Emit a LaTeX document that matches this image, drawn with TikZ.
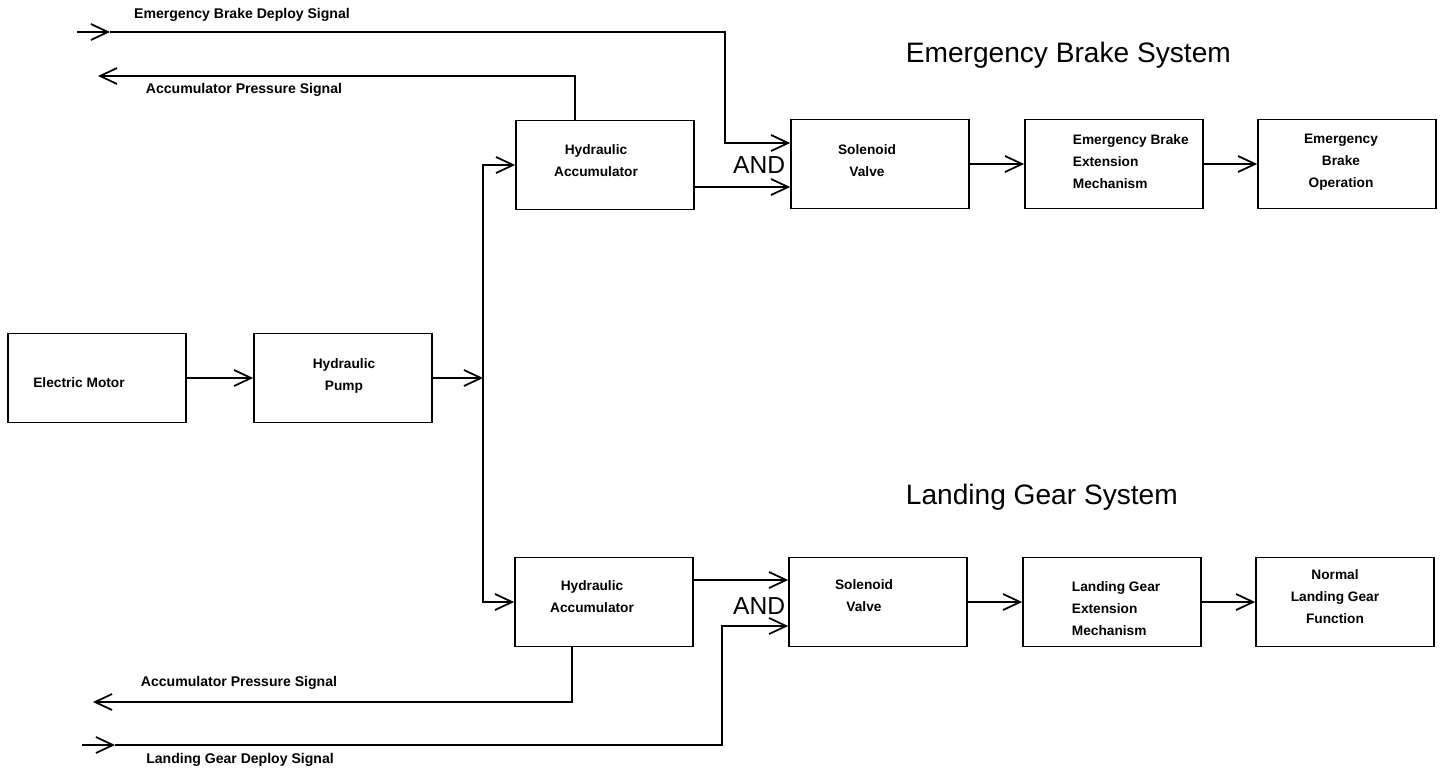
\documentclass[tikz,border=0pt]{standalone}
\usepackage{fontspec}
\setmainfont{Liberation Sans}
\usetikzlibrary{arrows.meta}
\tikzset{
  blk/.style={draw, line width=1pt, minimum width=3.56cm, minimum height=1.78cm, inner sep=0pt},
  txt/.style={inner sep=0pt, align=center, font=\fontsize{7.8}{12.5}\selectfont\bfseries},
  sig/.style={inner sep=0pt, font=\fontsize{8}{10}\selectfont\bfseries},
  systitle/.style={inner sep=0pt, anchor=west, font=\fontsize{16}{18}\selectfont},
  andlbl/.style={inner sep=0pt, anchor=east, font=\fontsize{14}{16}\selectfont},
  arr/.style={line width=1pt, -{Straight Barb[length=3.4mm,width=3.2mm]}}
}
\begin{document}
\begin{tikzpicture}[x=0.02cm, y=-0.02cm, line width=1pt]
  \useasboundingbox (0,0) rectangle (1442,772);
  \node[blk] (motor) at (97,378) {};
  \node[blk] (pump) at (343,378) {};
  \node[blk] (acc1) at (605,165) {};
  \node[blk] (sv1) at (880,164) {};
  \node[blk] (ebx) at (1114,164) {};
  \node[blk] (ebop) at (1347,164) {};
  \node[blk] (acc2) at (604,602) {};
  \node[blk] (sv2) at (878,602) {};
  \node[blk] (lgx) at (1112,602) {};
  \node[blk] (nlg) at (1345,602) {};

  \node[txt] (motortxt) at (79,383) {Electric Motor};
  \node[txt] (pumptxt) at (344,376) {Hydraulic\\Pump};
  \node[txt] (acc1txt) at (596,161) {Hydraulic\\Accumulator};
  \node[txt] (sv1txt) at (867,161) {Solenoid\\Valve};
  \node[txt, align=left, anchor=west] (ebxtxt) at (1072,162) {Emergency Brake\\Extension\\Mechanism};
  \node[txt] (eboptxt) at (1341,162) {Emergency\\Brake\\Operation};
  \node[txt] (acc2txt) at (592,597) {Hydraulic\\Accumulator};
  \node[txt] (sv2txt) at (864,596) {Solenoid\\Valve};
  \node[txt, align=left, anchor=west] (lgxtxt) at (1071,609) {Landing Gear\\Extension\\Mechanism};
  \node[txt] (nlgtxt) at (1335,597) {Normal\\Landing Gear\\Function};

  \node[systitle] (ebsys) at (905,55) {Emergency Brake System};
  \node[systitle] (lgsys) at (905,497) {Landing Gear System};
  \node[andlbl] (and1) at (786,165) {AND};
  \node[andlbl] (and2) at (786,606) {AND};

  \node[sig] (ebsiglbl) at (242,15) {Emergency Brake Deploy Signal};
  \node[sig] (aps1lbl) at (244,90) {Accumulator Pressure Signal};
  \node[sig] (aps2lbl) at (239,683) {Accumulator Pressure Signal};
  \node[sig] (lgsiglbl) at (240,760) {Landing Gear Deploy Signal};

  \coordinate (busmid) at (483,378);
  \coordinate (ebsig) at (77,32);
  \coordinate (ebtip) at (110,32);
  \coordinate (ebbend) at (725,143);
  \coordinate (aps1) at (98,76);
  \coordinate (aps1bend) at (575,76);
  \coordinate (lgsig) at (82,745);
  \coordinate (lgtip) at (115,745);
  \coordinate (lgbend) at (722,626);
  \coordinate (aps2) at (93,702);
  \coordinate (aps2bend) at (572,702);

  \draw[arr] (motor) -- (pump);
  \draw[arr] (pump.east) -- (busmid);
  \draw[arr] (busmid) |- (acc1.west);
  \draw[arr] (busmid) |- (acc2.west);

  \draw[arr] (ebsig) -- (ebtip);
  \draw[arr] (ebtip) -| (ebbend) -- (ebbend -| sv1.west);
  \draw[arr] (aps1bend |- acc1.north) -- (aps1bend) -- (aps1);
  \draw[arr] (acc1.east |- 0,187) -- (sv1.west |- 0,187);
  \draw[arr] (sv1) -- (ebx);
  \draw[arr] (ebx) -- (ebop);

  \draw[arr] (lgsig) -- (lgtip);
  \draw[arr] (lgtip) -| (lgbend) -- (lgbend -| sv2.west);
  \draw[arr] (aps2bend |- acc2.south) -- (aps2bend) -- (aps2);
  \draw[arr] (acc2.east |- 0,580) -- (sv2.west |- 0,580);
  \draw[arr] (sv2) -- (lgx);
  \draw[arr] (lgx) -- (nlg);
\end{tikzpicture}
\end{document}
